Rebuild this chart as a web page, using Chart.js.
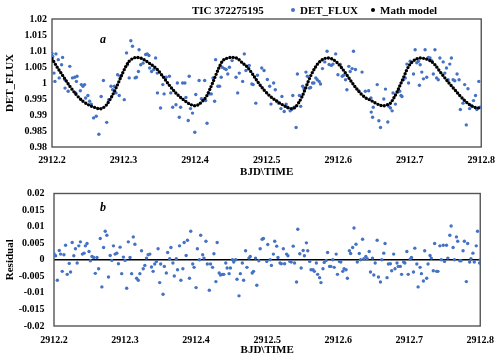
<!DOCTYPE html>
<html><head><meta charset="utf-8">
<script src="https://cdn.jsdelivr.net/npm/chart.js@4/dist/chart.umd.min.js"></script>
<style>
html,body{margin:0;padding:0;background:#fff;}
#wrap{position:relative;width:502px;height:356px;overflow:hidden;}
canvas{position:absolute;left:0;}
#c1{top:0;} #c2{top:178px;}
.t{position:absolute;font:bold 11px 'Liberation Serif';color:#000;white-space:nowrap;line-height:12px;}
.d{position:absolute;width:4px;height:4px;border-radius:50%;}
.lab{position:absolute;font:italic bold 12px 'Liberation Serif';color:#000;line-height:12px;}
</style></head><body>
<div id="wrap">
<canvas id="c1" width="502" height="178"></canvas>
<canvas id="c2" width="502" height="178"></canvas>
<div class="t" style="left:192px;top:4px">TIC 372275195</div>
<div class="d" style="left:291px;top:8px;background:#4472C4"></div>
<div class="t" style="left:300px;top:4px">DET_FLUX</div>
<div class="d" style="left:371px;top:8px;background:#000"></div>
<div class="t" style="left:380px;top:4px">Math model</div>
<div class="lab" style="left:100px;top:33px">a</div>
<div class="lab" style="left:100px;top:201px">b</div>
</div>
<script>
const xTickValues = [2912.2, 2912.3, 2912.4, 2912.5, 2912.6, 2912.7, 2912.8];
const xTickLabels = ['2912.2', '2912.3', '2912.4', '2912.5', '2912.6', '2912.7', '2912.8'];
const fluxTickValues = [0.98, 0.985, 0.99, 0.995, 1, 1.005, 1.01, 1.015, 1.02];
const fluxTickLabels = ['0.98', '0.985', '0.99', '0.995', '1', '1.005', '1.01', '1.015', '1.02'];
const resTickValues = [-0.02, -0.015, -0.01, -0.005, 0, 0.005, 0.01, 0.015, 0.02];
const resTickLabels = ['-0.02', '-0.015', '-0.01', '-0.005', '0', '0.005', '0.01', '0.015', '0.02'];

// DET_FLUX observations [time, flux]
const detFlux = [
[2912.2000,1.0092],[2912.2010,1.0083],[2912.2055,1.0091],[2912.2088,1.0073],[2912.2148,1.0080],[2912.2134,1.0057],[2912.2028,1.0031],[2912.2041,1.0005],[2912.2101,1.0016],[2912.2180,1.0010],[2912.2182,0.9984],[2912.2226,0.9974],[2912.2249,1.0052],[2912.2286,1.0016],[2912.2318,1.0018],[2912.2350,1.0021],[2912.2341,1.0005],[2912.2332,0.9969],[2912.2396,0.9976],[2912.2410,0.9995],[2912.2433,0.9990],[2912.2456,0.9995],[2912.2470,0.9953],[2912.2502,0.9961],[2912.2526,0.9943],[2912.2549,0.9934],[2912.2581,0.9891],[2912.2618,0.9896],[2912.2655,0.9840],[2912.2687,0.9958],[2912.2719,1.0008],[2912.2765,0.9877],[2912.2793,0.9948],[2912.2825,0.9990],[2912.2848,0.9979],[2912.2871,0.9990],[2912.2894,0.9969],[2912.2917,1.0026],[2912.2954,1.0021],[2912.2940,0.9961],[2912.3010,0.9948],[2912.3042,1.0094],[2912.3056,1.0057],[2912.3079,1.0016],[2912.3102,1.0132],[2912.3125,1.0115],[2912.3162,1.0016],[2912.3180,1.0018],[2912.3208,1.0036],[2912.3217,1.0104],[2912.3240,1.0057],[2912.3272,1.0062],[2912.3309,1.0089],[2912.3332,1.0091],[2912.3355,1.0086],[2912.3365,1.0047],[2912.3392,1.0036],[2912.3424,1.0042],[2912.3448,1.0078],[2912.3471,1.0031],[2912.3474,0.9969],[2912.3517,0.9922],
[2912.3549,0.9995],[2912.3567,0.9966],[2912.3595,1.0018],[2912.3641,1.0021],[2912.3660,0.9969],[2912.3687,0.9924],[2912.3733,0.9932],[2912.3752,1.0000],[2912.3779,0.9893],[2912.3798,0.9924],[2912.3826,1.0000],[2912.3858,1.0000],[2912.3872,0.9955],[2912.3904,0.9883],[2912.3918,1.0021],[2912.3936,0.9920],[2912.3964,0.9906],[2912.3996,0.9846],[2912.4010,0.9964],[2912.4056,1.0008],[2912.4088,0.9951],[2912.4134,1.0008],[2912.4148,0.9945],[2912.4167,0.9874],[2912.4204,0.9966],[2912.4227,0.9966],[2912.4250,1.0016],[2912.4273,0.9943],[2912.4287,1.0073],[2912.4319,0.9990],[2912.4342,0.9990],[2912.4365,1.0018],[2912.4379,1.0049],[2912.4411,1.0045],[2912.4434,1.0042],[2912.4457,1.0028],[2912.4480,1.0049],[2912.4517,1.0070],[2912.4572,1.0018],[2912.4595,0.9969],[2912.4618,1.0031],[2912.4665,1.0005],[2912.4688,1.0091],[2912.4711,1.0039],[2912.4757,1.0055],[2912.4794,0.9997],[2912.4812,0.9995],[2912.4849,0.9937],[2912.4872,1.0024],[2912.4932,1.0047],[2912.4964,1.0039],[2912.5010,1.0011],
[2912.5043,0.9990],[2912.5061,0.9934],[2912.5098,1.0000],[2912.5121,0.9979],[2912.5144,0.9943],[2912.5167,0.9937],[2912.5200,0.9920],[2912.5214,0.9958],[2912.5246,0.9911],[2912.5273,0.9934],[2912.5292,0.9924],[2912.5329,0.9913],[2912.5352,0.9917],[2912.5366,0.9961],[2912.5384,0.9924],[2912.5412,0.9861],[2912.5430,1.0028],[2912.5458,0.9961],[2912.5476,0.9927],[2912.5504,0.9990],[2912.5522,0.9982],[2912.5550,1.0034],[2912.5569,1.0021],[2912.5596,0.9984],[2912.5615,0.9986],[2912.5642,1.0000],[2912.5661,1.0000],[2912.5688,1.0016],[2912.5707,1.0010],[2912.5734,1.0005],[2912.5753,0.9997],[2912.5781,1.0045],[2912.5813,1.0066],[2912.5845,1.0099],[2912.5873,1.0058],[2912.5905,1.0055],[2912.5928,1.0059],[2912.5965,1.0091],[2912.5997,1.0026],[2912.6030,1.0058],[2912.6057,1.0021],[2912.6076,1.0024],[2912.6103,1.0010],[2912.6122,0.9979],[2912.6149,1.0052],[2912.6168,1.0036],[2912.6195,1.0045],[2912.6214,1.0099],[2912.6242,1.0042],[2912.6288,0.9976],[2912.6334,1.0034],[2912.6380,0.9974],[2912.6426,0.9976],[2912.6458,0.9953],[2912.6462,0.9909],[2912.6490,0.9924],[2912.6481,0.9893],
[2912.6546,0.9995],[2912.6569,0.9882],[2912.6592,0.9861],[2912.6638,0.9950],[2912.6661,0.9981],[2912.6694,0.9878],[2912.6708,0.9927],[2912.6731,0.9922],[2912.6754,0.9913],[2912.6767,0.9969],[2912.6800,0.9934],[2912.6832,0.9972],[2912.6860,0.9974],[2912.6878,0.9961],[2912.6892,0.9958],[2912.6915,1.0010],[2912.6938,1.0016],[2912.6961,1.0059],[2912.6984,1.0000],[2912.7007,1.0068],[2912.7053,1.0028],[2912.7076,1.0104],[2912.7099,1.0063],[2912.7122,1.0068],[2912.7146,1.0057],[2912.7136,0.9993],[2912.7169,1.0034],[2912.7192,1.0013],[2912.7215,1.0104],[2912.7238,1.0018],[2912.7261,1.0080],[2912.7284,1.0078],[2912.7307,1.0070],[2912.7330,1.0028],[2912.7353,1.0104],[2912.7376,1.0016],[2912.7399,1.0010],[2912.7422,1.0078],[2912.7468,1.0066],[2912.7491,1.0031],[2912.7514,1.0047],[2912.7537,1.0010],[2912.7560,1.0059],[2912.7583,1.0078],[2912.7607,1.0010],[2912.7630,1.0007],[2912.7662,1.0028],[2912.7690,1.0010],[2912.7708,0.9917],[2912.7745,0.9937],[2912.7768,0.9995],[2912.7791,0.9869],[2912.7814,0.9982],[2912.7837,0.9920],[2912.7860,0.9930],[2912.7892,0.9945],[2912.7920,0.9961],[2912.7938,0.9917],[2912.7966,1.0005],[2912.7984,0.9924]
];

// Math model [time, flux]
const mathModel = [
[2912.2000,1.0076],[2912.2065,1.0052],[2912.2157,1.0021],[2912.2249,0.9990],[2912.2341,0.9963],[2912.2433,0.9943],[2912.2526,0.9930],[2912.2618,0.9922],[2912.2664,0.9919],[2912.2710,0.9922],[2912.2756,0.9930],[2912.2802,0.9945],[2912.2848,0.9963],[2912.2894,0.9984],[2912.2940,1.0007],[2912.2987,1.0031],[2912.3033,1.0052],[2912.3079,1.0068],[2912.3125,1.0076],[2912.3180,1.0080],[2912.3240,1.0078],[2912.3309,1.0070],[2912.3378,1.0059],[2912.3460,1.0045],[2912.3558,1.0018],[2912.3650,0.9990],[2912.3743,0.9966],[2912.3835,0.9948],[2912.3927,0.9934],[2912.3996,0.9929],[2912.4042,0.9932],[2912.4111,0.9945],[2912.4158,0.9958],[2912.4204,0.9979],[2912.4250,1.0003],[2912.4296,1.0028],[2912.4342,1.0052],[2912.4388,1.0070],[2912.4457,1.0078],[2912.4526,1.0080],[2912.4595,1.0076],[2912.4665,1.0062],[2912.4734,1.0049],[2912.4803,1.0028],[2912.4872,1.0005],[2912.4960,0.9979],[2912.5052,0.9958],[2912.5144,0.9943],[2912.5237,0.9930],[2912.5306,0.9922],[2912.5352,0.9920],[2912.5398,0.9924],[2912.5444,0.9937],[2912.5490,0.9955],[2912.5536,0.9979],[2912.5582,1.0005],[2912.5628,1.0028],[2912.5675,1.0047],[2912.5721,1.0062],[2912.5781,1.0073],[2912.5845,1.0078],[2912.5905,1.0076],[2912.5974,1.0066],[2912.6043,1.0049],[2912.6112,1.0028],[2912.6182,1.0005],[2912.6251,0.9984],[2912.6320,0.9966],[2912.6389,0.9953],[2912.6454,0.9946],[2912.6523,0.9937],[2912.6592,0.9930],[2912.6638,0.9929],[2912.6685,0.9932],[2912.6731,0.9937],[2912.6777,0.9953],[2912.6823,0.9972],[2912.6869,0.9995],[2912.6915,1.0018],[2912.6961,1.0042],[2912.7007,1.0059],[2912.7076,1.0073],[2912.7146,1.0078],[2912.7215,1.0076],[2912.7284,1.0070],[2912.7353,1.0057],[2912.7422,1.0036],[2912.7491,1.0016],[2912.7560,0.9997],[2912.7630,0.9979],[2912.7699,0.9961],[2912.7768,0.9945],[2912.7837,0.9932],[2912.7906,0.9924],[2912.7952,0.9922],[2912.8000,0.9924]
];

// Residual [time, residual]
const residual = [
[2912.2000,0.0018],[2912.2023,0.0012],[2912.2047,-0.0062],[2912.2074,0.0028],[2912.2093,0.0017],[2912.2116,-0.0035],[2912.2140,0.0015],[2912.2163,0.0044],[2912.2186,-0.0044],[2912.2214,-0.0011],[2912.2233,-0.0037],[2912.2256,0.0052],[2912.2279,0.0012],[2912.2302,0.0033],[2912.2326,-0.0010],[2912.2349,0.0042],[2912.2372,0.0054],[2912.2400,0.0017],[2912.2423,0.0020],[2912.2442,0.0042],[2912.2465,0.0049],[2912.2493,0.0025],[2912.2512,-0.0003],[2912.2535,0.0010],[2912.2558,0.0007],[2912.2581,-0.0041],[2912.2605,0.0007],[2912.2628,-0.0027],[2912.2651,0.0064],[2912.2674,-0.0082],[2912.2698,0.0037],[2912.2721,0.0086],[2912.2744,0.0074],[2912.2767,-0.0052],[2912.2791,0.0013],[2912.2814,-0.0002],[2912.2837,0.0042],[2912.2860,0.0017],[2912.2884,0.0020],[2912.2907,-0.0012],[2912.2930,0.0038],[2912.2953,-0.0042],[2912.2977,0.0008],[2912.3000,-0.0002],[2912.3023,-0.0086],[2912.3046,0.0054],[2912.3070,0.0007],[2912.3093,-0.0042],[2912.3116,0.0069],[2912.3139,0.0047],[2912.3163,-0.0056],[2912.3186,-0.0062],[2912.3209,-0.0042],[2912.3232,0.0027],[2912.3256,-0.0027],[2912.3279,-0.0017],[2912.3302,0.0005],[2912.3325,0.0015],[2912.3349,0.0017],[2912.3372,-0.0022],[2912.3395,-0.0035],[2912.3418,-0.0013],[2912.3442,-0.0005],[2912.3465,0.0033],[2912.3488,-0.0069],[2912.3502,-0.0013],
[2912.3535,-0.0104],[2912.3553,-0.0020],[2912.3581,-0.0040],[2912.3600,0.0022],[2912.3628,0.0003],[2912.3646,0.0037],[2912.3674,-0.0010],[2912.3693,-0.0049],[2912.3721,0.0003],[2912.3739,-0.0030],[2912.3767,0.0042],[2912.3786,-0.0062],[2912.3814,-0.0027],[2912.3832,0.0052],[2912.3860,0.0013],[2912.3879,0.0059],[2912.3907,-0.0056],[2912.3925,0.0086],[2912.3953,-0.0013],[2912.3972,-0.0023],[2912.4000,-0.0084],[2912.4018,0.0033],[2912.4046,0.0000],[2912.4065,0.0074],[2912.4093,0.0015],[2912.4111,0.0005],[2912.4139,0.0056],[2912.4158,-0.0013],[2912.4186,-0.0092],[2912.4204,-0.0013],[2912.4232,-0.0023],[2912.4251,0.0018],[2912.4279,-0.0066],[2912.4297,0.0052],[2912.4325,-0.0040],[2912.4344,-0.0046],[2912.4372,-0.0044],[2912.4390,-0.0044],[2912.4418,-0.0010],[2912.4437,-0.0025],[2912.4465,-0.0042],[2912.4483,-0.0025],[2912.4511,0.0000],[2912.4530,-0.0007],[2912.4558,0.0000],[2912.4576,-0.0059],[2912.4604,-0.0109],[2912.4623,-0.0042],[2912.4651,-0.0010],[2912.4669,-0.0062],[2912.4697,0.0027],[2912.4716,-0.0023],[2912.4744,0.0005],[2912.4762,0.0010],[2912.4790,-0.0040],[2912.4809,-0.0035],[2912.4837,0.0005],[2912.4855,-0.0077],[2912.4883,-0.0003],[2912.4902,0.0033],[2912.4930,0.0062],[2912.4948,0.0064],[2912.4995,-0.0005],[2912.5009,0.0046],
[2912.5042,0.0000],[2912.5060,-0.0017],[2912.5088,0.0017],[2912.5107,0.0056],[2912.5135,0.0041],[2912.5153,0.0007],[2912.5181,-0.0010],[2912.5200,-0.0012],[2912.5228,0.0033],[2912.5246,-0.0012],[2912.5274,0.0017],[2912.5293,0.0012],[2912.5321,-0.0005],[2912.5339,-0.0007],[2912.5367,0.0041],[2912.5386,-0.0010],[2912.5414,-0.0067],[2912.5432,0.0092],[2912.5460,0.0018],[2912.5479,-0.0025],[2912.5507,0.0028],[2912.5525,0.0012],[2912.5553,0.0051],[2912.5572,0.0027],[2912.5600,-0.0005],[2912.5618,-0.0030],[2912.5646,-0.0030],[2912.5665,-0.0035],[2912.5693,-0.0010],[2912.5711,-0.0044],[2912.5739,-0.0054],[2912.5758,-0.0069],[2912.5786,-0.0027],[2912.5804,-0.0008],[2912.5832,-0.0002],[2912.5851,0.0022],[2912.5879,-0.0020],[2912.5897,-0.0020],[2912.5925,0.0000],[2912.5944,-0.0023],[2912.5972,0.0017],[2912.5990,-0.0044],[2912.6018,-0.0005],[2912.6037,-0.0007],[2912.6065,-0.0035],[2912.6083,-0.0027],[2912.6111,-0.0030],[2912.6130,-0.0056],[2912.6158,0.0027],[2912.6176,0.0019],[2912.6204,0.0037],[2912.6223,0.0096],[2912.6251,0.0047],[2912.6269,-0.0007],[2912.6297,0.0019],[2912.6316,0.0000],[2912.6344,0.0062],[2912.6362,0.0003],[2912.6390,0.0010],[2912.6409,0.0003],[2912.6437,0.0025],[2912.6455,-0.0037],[2912.6483,0.0005],[2912.6502,-0.0046],
[2912.6521,-0.0010],[2912.6549,0.0059],[2912.6567,-0.0052],[2912.6595,-0.0067],[2912.6614,0.0000],[2912.6642,0.0020],[2912.6660,0.0049],[2912.6688,-0.0054],[2912.6707,-0.0013],[2912.6735,-0.0012],[2912.6753,-0.0033],[2912.6781,0.0017],[2912.6800,-0.0027],[2912.6828,-0.0010],[2912.6846,-0.0020],[2912.6874,-0.0020],[2912.6893,-0.0044],[2912.6921,-0.0007],[2912.6939,-0.0010],[2912.6967,0.0025],[2912.6986,-0.0044],[2912.7014,0.0002],[2912.7032,0.0007],[2912.7060,-0.0037],[2912.7079,0.0035],[2912.7107,-0.0013],[2912.7125,-0.0082],[2912.7153,-0.0023],[2912.7172,-0.0042],[2912.7200,-0.0064],[2912.7218,0.0027],[2912.7246,-0.0056],[2912.7265,-0.0013],[2912.7293,0.0013],[2912.7311,0.0005],[2912.7339,-0.0033],[2912.7358,0.0049],[2912.7386,-0.0035],[2912.7404,-0.0035],[2912.7432,0.0042],[2912.7451,0.0000],[2912.7479,0.0044],[2912.7497,-0.0005],[2912.7525,0.0044],[2912.7544,0.0005],[2912.7572,0.0074],[2912.7590,0.0102],[2912.7618,0.0037],[2912.7637,0.0000],[2912.7665,0.0069],[2912.7683,0.0056],[2912.7711,-0.0003],[2912.7730,-0.0003],[2912.7758,0.0027],[2912.7776,0.0056],[2912.7804,-0.0066],[2912.7823,0.0049],[2912.7851,-0.0007],[2912.7869,0.0003],[2912.7897,0.0020],[2912.7916,-0.0007],[2912.7944,0.0042],[2912.7962,0.0086],[2912.7990,-0.0010],[2912.8000,0.0000]
];

const toXY = arr => arr.map(p => ({ x: p[0], y: p[1] }));
const tickFont = { family: 'Liberation Serif', weight: 'bold', size: 10 };
const titleFont = { family: 'Liberation Serif', weight: 'bold', size: 11, lineHeight: 1 };
const blue = '#4472C4';

const framePlugin = {
  id: 'frame',
  beforeDatasetsDraw(chart) {
    const { ctx, chartArea: a } = chart;
    ctx.save();
    ctx.strokeStyle = '#555555';
    ctx.lineWidth = 1.4;
    ctx.strokeRect(a.left, a.top, a.right - a.left, a.bottom - a.top);
    ctx.restore();
  }
};

function build(id, datasets, cfg) {
  return new Chart(document.getElementById(id), {
    type: 'scatter',
    data: { datasets },
    options: {
      responsive: false,
      animation: false,
      events: [],
      layout: { padding: { top: cfg.padTop, right: cfg.padRight, left: 0, bottom: 0 } },
      plugins: { legend: { display: false }, tooltip: { enabled: false } },
      scales: {
        x: {
          type: 'linear', min: 2912.2, max: 2912.8,
          afterBuildTicks: s => { s.ticks = xTickValues.map(v => ({ value: v })); },
          afterFit: s => { s.height = cfg.xH; },
          ticks: { callback: (v, i) => xTickLabels[i], font: tickFont, color: '#000', padding: cfg.xPad, maxRotation: 0, autoSkip: false },
          grid: { display: false, drawTicks: false },
          border: { display: false },
          title: { display: true, text: 'BJD\\TIME', font: titleFont, color: '#000', padding: { top: 0, bottom: 0 } }
        },
        y: {
          type: 'linear', min: cfg.yMin, max: cfg.yMax,
          afterBuildTicks: s => { s.ticks = cfg.yTicks.map(v => ({ value: v })); },
          afterFit: s => { s.width = cfg.yW; },
          ticks: { callback: (v, i) => cfg.yLabels[i], font: tickFont, color: '#000', padding: cfg.yPad, autoSkip: false },
          grid: cfg.zeroLine ? {
            display: true, drawTicks: false,
            color: c => (c.tick && c.tick.value === 0) ? '#000' : 'rgba(0,0,0,0)',
            lineWidth: 1.5
          } : { display: false, drawTicks: false },
          border: { display: false },
          title: { display: true, text: cfg.yTitle, font: titleFont, color: '#000', padding: { top: 4.5, bottom: 0 } }
        }
      }
    },
    plugins: [framePlugin]
  });
}

build('c1', [
  {
    label: 'Math model', data: toXY(mathModel), showLine: true,
    borderColor: '#000', borderWidth: 3.4, borderDash: [0, 3.3], borderCapStyle: 'round',
    cubicInterpolationMode: 'monotone', pointRadius: 0, order: 0
  },
  {
    label: 'DET_FLUX', data: toXY(detFlux), backgroundColor: blue, borderWidth: 0,
    pointRadius: 1.7, order: 1
  }
], { padTop: 19, padRight: 16, xH: 31, yW: 52, xPad: 7, yPad: 5, yMin: 0.98, yMax: 1.02,
     yTicks: fluxTickValues, yLabels: fluxTickLabels, yTitle: 'DET_FLUX', zeroLine: false });

build('c2', [
  {
    label: 'Residual', data: toXY(residual), backgroundColor: blue, borderWidth: 0,
    pointRadius: 1.7
  }
], { padTop: 13, padRight: 18, xH: 30, yW: 54, xPad: 8, yPad: 9.5, yMin: -0.02, yMax: 0.02,
     yTicks: resTickValues, yLabels: resTickLabels, yTitle: 'Residual', zeroLine: true });
</script>
</body></html>
